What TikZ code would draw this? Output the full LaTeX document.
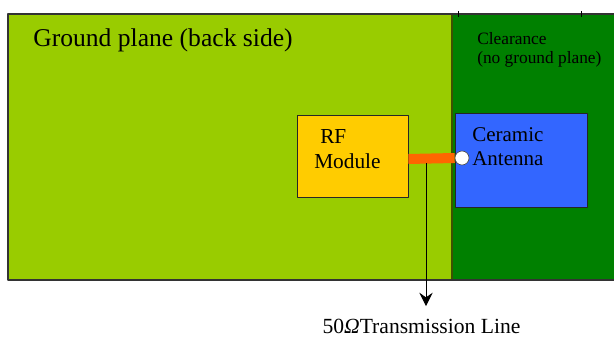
\documentclass[tikz,border=0pt]{standalone}
\usepackage{fontspec}
\setmainfont{Liberation Serif}
\usetikzlibrary{arrows.meta}
\definecolor{groundA}{RGB}{153,204,0}
\definecolor{clearA}{RGB}{0,128,0}
\definecolor{moduleA}{RGB}{255,204,0}
\definecolor{antennaA}{RGB}{51,102,255}
\definecolor{feedA}{RGB}{255,102,0}
\tikzset{board/.style={draw=black!80,line width=.8pt},
 part/.style={draw=black!85,line width=.6pt,inner sep=0pt},
 caption/.style={inner sep=0pt,align=left,anchor=base west},
 tick/.style={draw=black,line width=.6pt},
 every picture/.style={line join=round}}

\begin{document}
\begin{tikzpicture}[x=0.75pt,y=-0.75pt]
\useasboundingbox (0,0) rectangle (614,338);
\fill[groundA] (8,14) rectangle (452,280);
\fill[clearA] (452,14) rectangle (620,280);
\draw[draw=black!60!groundA,line width=.8pt] (452,14) -- (452,280);
\draw[board] (620,14) -- (8,14) -- (8,280) -- (620,280);
\draw[tick] (458,11) -- (458,17);
\draw[tick] (581,11) -- (581,17);
\node[caption,font=\fontsize{19.2}{23}\selectfont] (gp) at (33,47) {Ground plane (back side)};
\node[caption,font=\fontsize{13}{14.25}\selectfont] (clr) at (477,64) {Clearance\\(no ground plane)};
\node[part,fill=moduleA,minimum width=83.25pt,minimum height=61.5pt] (rf) at (352.5,156) {};
\node[caption,font=\fontsize{16}{18.75}\selectfont] (rft) at (314,169) {\hspace{4.5pt}RF\\Module};
\node[part,fill=antennaA,minimum width=99pt,minimum height=70.5pt] (ant) at (521,160) {};
\node[caption,font=\fontsize{15.75}{18}\selectfont] (antt) at (472,166) {Ceramic\\Antenna};
\node[circle,draw=black!70,fill=white,line width=.5pt,minimum size=10.5pt,inner sep=0pt] (feed) at (462,158) {};
\draw[draw=feedA,line width=7.5pt] ([yshift=-2.25pt]rf.east) -- (feed.west);
\coordinate (tap) at (426,163);
\node[font=\fontsize{16.2}{19}\selectfont,inner sep=0pt,anchor=base] (tl) at (421.5,334) {50\textit{Ω}Transmission Line};
\draw[-{Stealth[length=10pt,width=10pt,inset=3.5pt]},line width=.7pt,shorten >=10pt] (tap) -- (tap |- tl.north);
\end{tikzpicture}
\end{document}
